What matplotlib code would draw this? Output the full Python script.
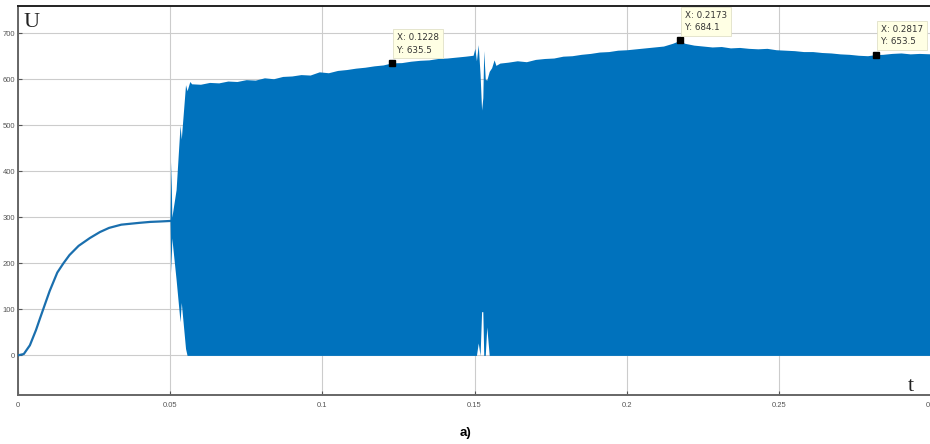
import numpy as np
import matplotlib
matplotlib.use('Agg')
import matplotlib.pyplot as plt

# rising part before the switching starts (smooth curve)
t_rise = [0, 0.002, 0.004, 0.006, 0.0073, 0.009, 0.0105, 0.013, 0.015, 0.017,
          0.020, 0.0237, 0.027, 0.030, 0.034, 0.037, 0.040, 0.0435, 0.047, 0.050]
u_rise = [0, 3, 22, 55, 80, 112, 140, 180, 200, 218,
          238, 255, 268, 277, 284, 286, 288, 290, 291, 292]

# envelope of the dense oscillating part
t_env = [0.0500, 0.0503, 0.0506, 0.0520, 0.0533, 0.0537, 0.0551, 0.0556, 0.0565, 0.0571,
         0.060, 0.063, 0.066, 0.069, 0.072, 0.075, 0.078, 0.081, 0.084, 0.087,
         0.090, 0.093, 0.096, 0.099, 0.102, 0.105, 0.108, 0.111, 0.114, 0.117,
         0.120, 0.1228, 0.126, 0.129, 0.132, 0.135, 0.138, 0.141, 0.144, 0.147,
         0.1495, 0.1501, 0.1506, 0.1512, 0.1518, 0.1523, 0.1527, 0.1530, 0.1535, 0.1540,
         0.1548, 0.1556, 0.1564, 0.1570, 0.1583, 0.161, 0.164, 0.167, 0.170, 0.173,
         0.176, 0.179, 0.182, 0.185, 0.188, 0.191, 0.194, 0.197, 0.200, 0.203,
         0.206, 0.209, 0.212, 0.215, 0.2173, 0.219, 0.222, 0.225, 0.228, 0.231,
         0.234, 0.237, 0.240, 0.243, 0.246, 0.249, 0.252, 0.255, 0.258, 0.261,
         0.264, 0.267, 0.270, 0.273, 0.276, 0.279, 0.2817, 0.284, 0.287, 0.290,
         0.293, 0.296, 0.300]
u_upper = [292, 421, 300, 360, 500, 470, 588, 575, 595, 590,
           589, 593, 592, 596, 595, 599, 598, 603, 601, 606,
           607, 610, 609, 616, 614, 619, 621, 624, 626, 629,
           631, 635.5, 636, 639, 641, 642, 645, 646, 648, 650,
           652, 667, 640, 675, 610, 533, 560, 662, 600, 598,
           617, 625, 642, 630, 635, 637, 640, 638, 643, 645,
           646, 650, 651, 654, 656, 659, 660, 663, 664, 666,
           668, 670, 672, 678, 684.1, 678, 674, 672, 670, 671,
           668, 669, 667, 666, 667, 664, 663, 662, 660, 660,
           658, 657, 655, 654, 652, 651, 653.5, 654, 656, 657,
           655, 656, 655]
u_lower = [292, 180, 255, 165, 73, 115, 15, 0, 0, 0,
           0, 0, 0, 0, 0, 0, 0, 0, 0, 0,
           0, 0, 0, 0, 0, 0, 0, 0, 0, 0,
           0, 0, 0, 0, 0, 0, 0, 0, 0, 0,
           0, 0, 0, 27, 0, 95, 95, 0, 0, 62,
           0, 0, 0, 0, 0, 0, 0, 0, 0, 0,
           0, 0, 0, 0, 0, 0, 0, 0, 0, 0,
           0, 0, 0, 0, 0, 0, 0, 0, 0, 0,
           0, 0, 0, 0, 0, 0, 0, 0, 0, 0,
           0, 0, 0, 0, 0, 0, 0, 0, 0, 0,
           0, 0, 0]

# data tips
tip_x = [0.1228, 0.2173, 0.2817]
tip_y = [635.5, 684.1, 653.5]

xticks = [0, 0.05, 0.1, 0.15, 0.2, 0.25, 0.3]
xticklabels = ['0', '0.05', '0.1', '0.15', '0.2', '0.25', '0.3']
yticks = [0, 100, 200, 300, 400, 500, 600, 700]

blue = '#0072BD'

fig = plt.figure(figsize=(9.3, 4.44), dpi=100)
ax = fig.add_axes([17.7 / 930, 1 - 395 / 444, 913.8 / 930, 389 / 444])

ax.plot(t_rise, u_rise, color='#1a6fae', lw=1.6, zorder=3)
ax.fill_between(t_env, u_lower, u_upper, color=blue, lw=0, zorder=3)

ax.set_xlim(0, 0.3)
ax.set_ylim(-86, 759)
ax.set_xticks(xticks)
ax.set_xticklabels(xticklabels)
ax.set_yticks(yticks)
ax.grid(True, color='#cccccc', lw=0.8)
ax.set_axisbelow(True)
ax.tick_params(direction='in', length=3, colors='#555555')
ax.tick_params(axis='y', pad=2)
ax.tick_params(axis='x', pad=5)
for lab in ax.get_xticklabels() + ax.get_yticklabels():
    lab.set_family('Liberation Sans')
    lab.set_fontsize(5.5)
    lab.set_color('#555555')

for s in ['left', 'bottom']:
    ax.spines[s].set_color('#666666')
    ax.spines[s].set_linewidth(1.4)
ax.spines['top'].set_color('#222222')
ax.spines['top'].set_linewidth(1.4)
ax.spines['right'].set_visible(False)

for x, y in zip(tip_x, tip_y):
    ax.plot(x, y, 's', color='black', ms=4.5, zorder=5)
    ax.annotate('X: %s\nY: %s' % (x, y), (x, y), xytext=(4, 6),
                textcoords='offset points', fontsize=6.3, color='#333333',
                ha='left', va='bottom', linespacing=1.5, zorder=6,
                bbox=dict(boxstyle='square,pad=0.45', fc='#ffffe4', ec='#e0e0c8', lw=0.6))

fig.text(23 / 930, 1 - 27 / 444, 'U', family='Liberation Serif', fontsize=16, color='#222222')
fig.text(911 / 930, 1 - 391 / 444, 't', family='Liberation Serif', fontsize=16,
         color='#222222', ha='center')
fig.text(465 / 930, 1 - 436 / 444, 'a)', family='Liberation Sans', fontsize=9.5,
         fontweight='bold', ha='center')

fig.savefig('out.png', dpi=100)
